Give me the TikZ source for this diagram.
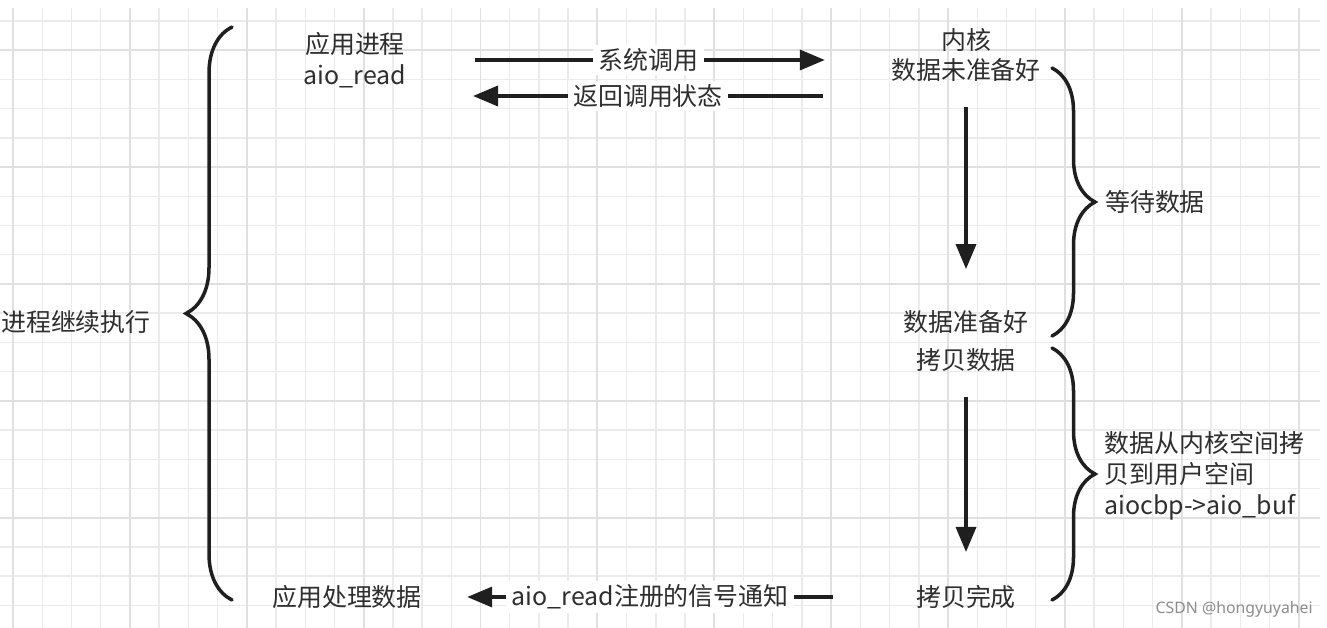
\documentclass[tikz,border=0pt]{standalone}
\usepackage{fontspec}
\setmainfont{Noto Sans CJK SC}
\newfontfamily\markfont{Noto Sans}
\usetikzlibrary{arrows.meta,decorations.pathreplacing}

\begin{document}
\begin{tikzpicture}[
    x=0.02cm, y=-0.02cm,
    every node/.style={align=center, inner sep=0pt, text=black!82,
      font=\fontsize{14.2}{17.6}\selectfont},
    arr/.style={line width=2pt, draw=black!88,
      -{Triangle[length=0.5cm,width=0.4cm]}},
    curly/.style={line width=2pt, draw=black!88, line cap=round,
      decorate, decoration={brace, amplitude=#1}},
    tag/.style={fill=white, inner xsep=3pt, inner ysep=2pt},
    minor/.style={draw=black!8, line width=0.8pt},
    major/.style={draw=black!12, line width=1.1pt}
  ]
  \useasboundingbox (0,0) rectangle (1327,628);
  % background grid
  \foreach \i in {0,...,44}
    \draw[minor] (13+29.22*\i,8) -- (13+29.22*\i,628);
  \foreach \j in {0,...,20}
    \draw[minor] (0,21+29.22*\j) -- (1320,21+29.22*\j);
  \foreach \i in {0,4,...,44}
    \draw[major] (13+29.22*\i,8) -- (13+29.22*\i,628);
  \foreach \j in {1,5,...,17}
    \draw[major] (0,21+29.22*\j) -- (1320,21+29.22*\j);

  % application side
  \node (app) at (355,60) {应用进程\\aio\_read};
  \node (handle) at (347,597) {应用处理数据};
  \node (cont) at (76,322) {进程继续执行};

  % kernel side
  \node (kern) at (966,55) {内核\\数据未准备好};
  \node (ready) at (966,322) {数据准备好};
  \node (copy) at (966,360) {拷贝数据};
  \node (done) at (966,597) {拷贝完成};
  \node (wait) at (1155,202) {等待数据};
  \node[anchor=west, align=left] (move) at (1104,476)
    {数据从内核空间拷\\贝到用户空间\\aiocbp->aio\_buf};

  \node[anchor=east, text=black!45, font=\markfont\fontsize{9}{11}\selectfont]
    (mark) at (1313,609) {CSDN @hongyuyahei};

  % calls between the two sides
  \coordinate (retR) at (823,96);
  \coordinate (retL) at (473,96);
  \coordinate (sigR) at (833,597);
  \draw[arr, shorten <=1.36cm, shorten >=1.32cm]
    (app.east) -- node[tag] {系统调用} (app.east -| kern.west);
  \draw[arr] (retR) -- node[tag] {返回调用状态} (retL);
  \draw[arr, shorten >=0.9cm] (sigR) -- node[tag, pos=0.445] {aio\_read注册的信号通知} (handle.east);

  % kernel steps
  \draw[arr, shorten <=0.5cm, shorten >=0.82cm] (kern.south) -- (ready.north);
  \draw[arr, shorten <=0.5cm, shorten >=0.66cm] (copy.south) -- (done.north);

  % braces
  \draw[curly=0.92cm] (232,600) -- (232,27);
  \draw[curly=0.86cm] (1052,68) -- (1052,336);
  \draw[curly=0.86cm] (1052,348) -- (1052,600);
\end{tikzpicture}
\end{document}
